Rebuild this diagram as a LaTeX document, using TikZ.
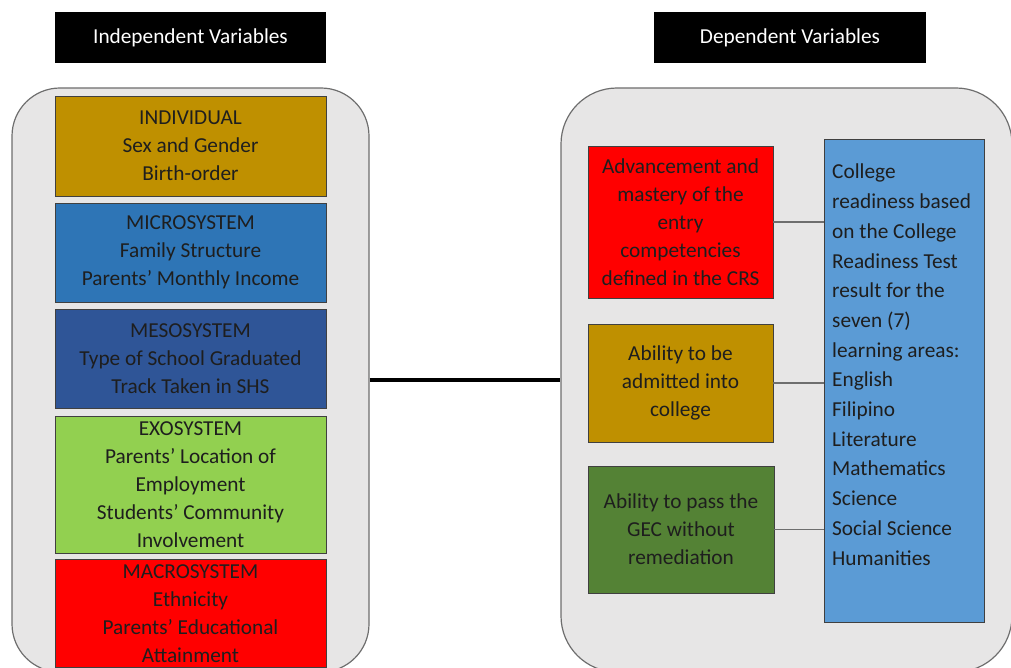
\documentclass[tikz,border=0pt]{standalone}
\usepackage{fontspec}
\setmainfont{Carlito}
\definecolor{panelgray}{HTML}{E7E6E6}
\definecolor{panelline}{HTML}{6E6E6E}
\definecolor{boxline}{HTML}{404040}
\definecolor{ink}{HTML}{1E1E1E}
\definecolor{goldbox}{HTML}{BF9000}
\definecolor{microblue}{HTML}{2E75B6}
\definecolor{mesoblue}{HTML}{2F5597}
\definecolor{exogreen}{HTML}{92D050}
\definecolor{redbox}{HTML}{FF0000}
\definecolor{depgreen}{HTML}{548235}
\definecolor{crtblue}{HTML}{5B9BD5}

\begin{document}
\begin{tikzpicture}[x=1pt,y=-1pt,
    font=\fontsize{21.3}{28}\selectfont,
    panel/.style={draw=panelline, fill=panelgray, line width=1.2pt, rounded corners=48pt},
    header/.style={fill=black, text=white, minimum height=51pt, inner sep=0pt},
    varbox/.style={draw=boxline, line width=0.9pt, text=ink, align=center, inner sep=1pt},
    link/.style={draw=panelline, line width=1.2pt}]

    % Frame
    \useasboundingbox (0,0) rectangle (1011,668);
    \clip (0,0) rectangle (1011,668);

    % Headings
    \node[header, minimum width=271pt] (indephead) at (190.5,37.5) {Independent Variables};
    \node[header, minimum width=272pt] (dephead) at (790,37.5) {Dependent Variables};

    % Panels
    \node[panel, minimum width=357pt, minimum height=584pt] (indep) at (190.5,380) {};
    \node[panel, minimum width=451pt, minimum height=584pt, rounded corners=56pt] (dep) at (786.5,380) {};

    % Independent variables
    \node[varbox, fill=goldbox, minimum width=271pt, minimum height=100pt] (indiv) at (190.5,146)
        {INDIVIDUAL\\Sex and Gender\\Birth-order};
    \node[varbox, fill=microblue, minimum width=271pt, minimum height=99pt] (micro) at (190.5,252.5)
        {MICROSYSTEM\\Family Structure\\Parents’ Monthly Income};
    \node[varbox, fill=mesoblue, minimum width=271pt, minimum height=99pt] (meso) at (190.5,358.5)
        {MESOSYSTEM\\Type of School Graduated\\Track Taken in SHS};
    \node[varbox, fill=exogreen, minimum width=271pt, minimum height=137pt] (exo) at (190.5,484.5)
        {EXOSYSTEM\\Parents’ Location of\\Employment\\Students’ Community\\Involvement};
    \node[varbox, fill=redbox, minimum width=271pt, minimum height=108pt] (macro) at (190.5,613.5)
        {MACROSYSTEM\\Ethnicity\\Parents’ Educational\\Attainment};

    % Dependent variables
    \node[varbox, fill=redbox, minimum width=185pt, minimum height=152pt] (adv) at (680.5,222)
        {Advancement and\\mastery of the\\entry\\competencies\\defined in the CRS};
    \node[varbox, fill=goldbox, minimum width=185pt, minimum height=118pt] (adm) at (680.5,383)
        {Ability to be\\admitted into\\college};
    \node[varbox, fill=depgreen, minimum width=186pt, minimum height=127pt] (gec) at (681,529.5)
        {Ability to pass the\\GEC without\\remediation};
    \node[varbox, fill=crtblue, minimum width=160pt, minimum height=483pt] (crt) at (904,380.5) {};
    \node[text=ink, align=left, anchor=north west, inner sep=0pt,
        font=\fontsize{21.3}{29.7}\selectfont] (crttext) at (832,164)
        {College\\readiness based\\on the College\\Readiness Test\\result for the\\seven (7)\\learning areas:\\English\\Filipino\\Literature\\Mathematics\\Science\\Social Science\\Humanities};

    % Connectors
    \draw[line width=3.5pt] (indep.east) -- (dep.west);
    \foreach \n in {adv,adm,gec}
        \draw[link] (\n.east) -- (\n.east -| crt.west);
\end{tikzpicture}
\end{document}
